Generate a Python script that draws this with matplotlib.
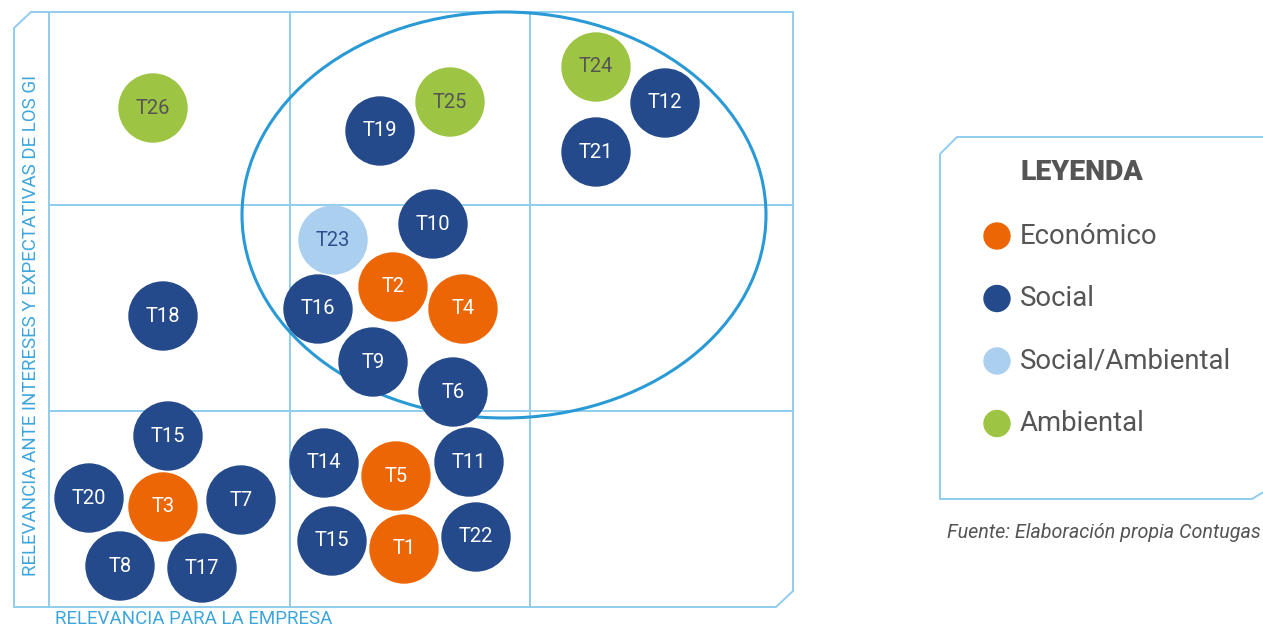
import matplotlib
matplotlib.use("Agg")
import matplotlib.pyplot as plt
from matplotlib.patches import Circle, Ellipse, Polygon

plt.rcParams['font.family'] = ['Roboto', 'DejaVu Sans']

# temas de la matriz de materialidad (posición en pixeles del lienzo)
temas = ['T26', 'T19', 'T25', 'T24', 'T12', 'T21', 'T10', 'T23', 'T2', 'T16',
         'T4', 'T9', 'T6', 'T18', 'T15', 'T20', 'T3', 'T7', 'T8', 'T17',
         'T14', 'T5', 'T11', 'T15', 'T1', 'T22']
pos_x = [153, 380, 450, 596, 665, 596, 433, 333, 393, 318,
         463, 373, 453, 163, 168, 89, 163, 241, 120, 202,
         324, 396, 469, 332, 404, 476]
pos_y = [108, 131, 102, 67, 103, 152, 224, 240, 287, 309,
         309, 362, 392, 316, 436, 498, 507, 500, 566, 568,
         463, 476, 462, 541, 549, 537]
tipo = ['Ambiental', 'Social', 'Ambiental', 'Ambiental', 'Social', 'Social',
        'Social', 'Social/Ambiental', 'Económico', 'Social',
        'Económico', 'Social', 'Social', 'Social', 'Social', 'Social',
        'Económico', 'Social', 'Social', 'Social',
        'Social', 'Económico', 'Social', 'Social', 'Económico', 'Social']

categorias = ['Económico', 'Social', 'Social/Ambiental', 'Ambiental']
colores = {'Económico': '#ec6605', 'Social': '#244a8c',
           'Social/Ambiental': '#abd0ef', 'Ambiental': '#9dc443'}
color_texto = {'Económico': 'white', 'Social': 'white',
               'Social/Ambiental': '#2d4f8e', 'Ambiental': '#555555'}

fig = plt.figure(figsize=(12.63, 6.28), dpi=100)
ax = fig.add_axes([0, 0, 1, 1])
ax.set_xlim(0, 1263)
ax.set_ylim(628, 0)
ax.axis('off')

linea = '#8fcdee'
# marco con esquinas cortadas
ax.add_patch(Polygon([(14, 28), (31, 12), (793, 12), (793, 591), (776, 607), (14, 607)],
                     closed=True, fill=False, ec=linea, lw=1.4, zorder=1))
# cuadrícula 3x3
for xv in [49, 290, 530]:
    ax.plot([xv, xv], [12, 607], color=linea, lw=1.4, zorder=1)
for yh in [205, 411]:
    ax.plot([49, 793], [yh, yh], color=linea, lw=1.4, zorder=1)

# elipse de temas materiales
ax.add_patch(Ellipse((504, 215), 524, 406, fill=False, ec='#2a9ad6', lw=2.2, zorder=2))

for t, x, y, c in zip(temas, pos_x, pos_y, tipo):
    ax.add_patch(Circle((x, y), 34, color=colores[c], zorder=3))
    ax.text(x, y, t, ha='center', va='center', fontsize=14.5, color=color_texto[c], zorder=4)

# ejes
ax.text(55, 619, 'RELEVANCIA PARA LA EMPRESA', ha='left', va='center',
        fontsize=13.5, color='#3ea6dd')
ax.text(31, 576, 'RELEVANCIA ANTE INTERESES Y EXPECTATIVAS DE LOS GI', ha='left', va='center',
        rotation=90, rotation_mode='anchor', fontsize=13.5, color='#3ea6dd')

# leyenda
ax.add_patch(Polygon([(940, 154), (957, 137), (1270, 137), (1270, 488), (1252, 499), (940, 499)],
                     closed=True, fill=False, ec=linea, lw=1.4, zorder=1))
ax.text(1020, 173, 'LEYENDA', ha='left', va='center', fontsize=20.5, fontweight='heavy', color='#555555')
for i, cat in enumerate(categorias):
    yy = 236 + i * 62.5
    ax.add_patch(Circle((997, yy), 13, color=colores[cat], zorder=3))
    ax.text(1020, yy, cat, ha='left', va='center', fontsize=19.8, color='#555555')

ax.text(947, 532, 'Fuente: Elaboración propia Contugas', ha='left', va='center',
        fontsize=14.2, style='italic', color='#555555')

fig.savefig('out.png', dpi=100)
